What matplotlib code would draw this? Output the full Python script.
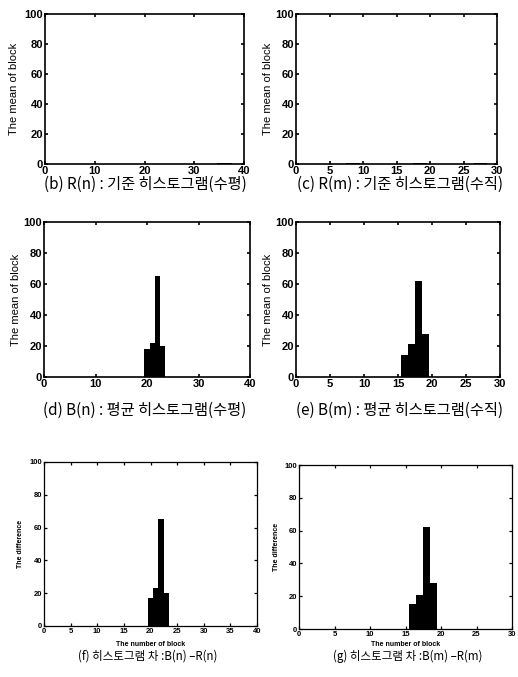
import numpy as np
import matplotlib
matplotlib.use("Agg")
import matplotlib.pyplot as plt

# data (block index -> value)
n_blocks = np.arange(1, 41)
m_blocks = np.arange(1, 31)

# reference histograms are (almost) empty
r_n = np.zeros(40); r_n[[34, 35, 36]] = 0.6
r_m = np.zeros(30); r_m[[7, 8, 17, 18, 26, 27]] = 0.5

b_n_x = [20, 21, 22, 23]
b_n_y = [18, 22, 65, 20]
b_m_x = [16, 17, 18, 19]
b_m_y = [14, 21, 62, 28]

d_n_x = [20, 21, 22, 23]
d_n_y = [17, 23, 65, 20]
d_m_x = [16, 17, 18, 19]
d_m_y = [15, 21, 62, 28]

captions = ["(b) R(n) : 기준 히스토그램(수평)", "(c) R(m) : 기준 히스토그램(수직)",
            "(d) B(n) : 평균 히스토그램(수평)", "(e) B(m) : 평균 히스토그램(수직)",
            "(f) 히스토그램 차 :B(n) \u2013R(n)", "(g) 히스토그램 차 :B(m) \u2013R(m)"]

W, H = 518, 677
fig = plt.figure(figsize=(W / 100, H / 100), dpi=100)
cjk = ['Noto Sans CJK KR', 'DejaVu Sans']
tickfont = ['Liberation Sans', 'DejaVu Sans']


def add_ax(l, t, r, b):
    return fig.add_axes([l / W, 1 - b / H, (r - l) / W, (b - t) / H])


def style(ax, xmax, xstep, fs, lw):
    ax.set_xlim(0, xmax)
    ax.set_ylim(0, 100)
    xt = np.arange(0, xmax + 1, xstep)
    yt = np.arange(0, 101, 20)
    ax.set_xticks(xt)
    ax.set_yticks(yt)
    ax.set_xticklabels([str(v) for v in xt], fontweight='bold', family=tickfont, fontsize=fs)
    ax.set_yticklabels([str(v) for v in yt], fontweight='bold', family=tickfont, fontsize=fs)
    ax.tick_params(direction='in', top=True, right=True, length=2.5, width=lw, pad=1.5)
    for s in ax.spines.values():
        s.set_linewidth(lw)


# top row
ax_b = add_ax(45, 14, 244, 164)
ax_b.bar(n_blocks, r_n, width=1.0, color='black')
style(ax_b, 40, 10, 8, 1.2)
ax_c = add_ax(296, 14, 497, 164)
ax_c.bar(m_blocks, r_m, width=1.0, color='black')
style(ax_c, 30, 5, 8, 1.2)

# middle row
ax_d = add_ax(44, 222, 250, 377)
ax_d.bar(b_n_x, b_n_y, width=1.0, color='black')
style(ax_d, 40, 10, 8, 1.2)
ax_e = add_ax(296, 222, 500, 377)
ax_e.bar(b_m_x, b_m_y, width=1.0, color='black')
style(ax_e, 30, 5, 8, 1.2)

# bottom row
ax_f = add_ax(44, 462, 257, 626)
ax_f.bar(d_n_x, d_n_y, width=1.0, color='black')
style(ax_f, 40, 5, 5.5, 0.9)
ax_g = add_ax(299, 465, 512, 629)
ax_g.bar(d_m_x, d_m_y, width=1.0, color='black')
style(ax_g, 30, 5, 5.5, 0.9)

for ax, xpos in [(ax_b, 14), (ax_c, 268), (ax_d, 16), (ax_e, 268)]:
    bb = ax.get_position()
    fig.text(xpos / W, (bb.y0 + bb.y1) / 2, "The mean of block", rotation=90,
             ha='center', va='center', fontsize=8, family=tickfont)

for ax, xpos in [(ax_f, 20), (ax_g, 276)]:
    bb = ax.get_position()
    fig.text(xpos / W, (bb.y0 + bb.y1) / 2, "The difference", rotation=90,
             ha='center', va='center', fontsize=5, family=tickfont, fontweight='bold')
    fig.text((bb.x0 + bb.x1) / 2, 1 - 644 / H, "The number of block",
             ha='center', va='center', fontsize=5, family=tickfont, fontweight='bold')

cap_pos = [(145, 184), (400, 184), (145, 410), (400, 410), (148, 656), (408, 656)]
for txt, (cx, cy), fs in zip(captions, cap_pos, [11, 11, 11, 11, 8.3, 8.3]):
    fig.text(cx / W, 1 - cy / H, txt, ha='center', va='center', fontsize=fs, family=cjk)

fig.savefig("out.png", dpi=100)
